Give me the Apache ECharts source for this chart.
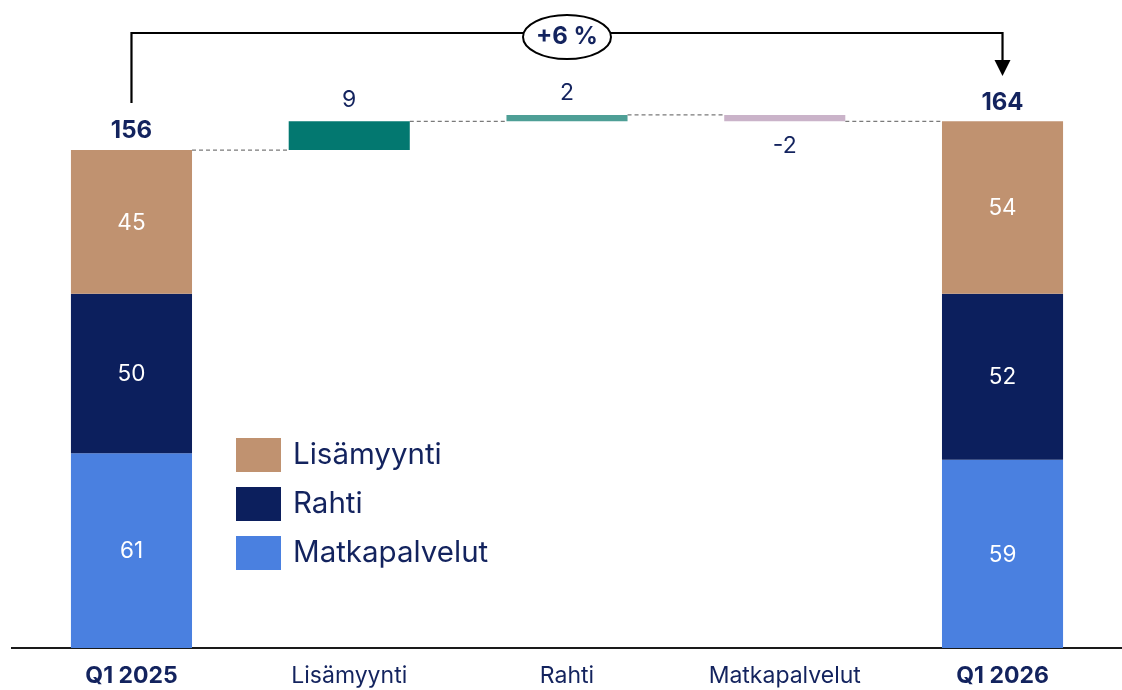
<!DOCTYPE html>
<html>
<head>
<meta charset="utf-8">
<script src="https://cdn.jsdelivr.net/npm/echarts@6/dist/echarts.min.js"></script>
<style>
  html, body { margin: 0; padding: 0; background: #fff; }
  #chart { width: 1122px; height: 690px; }
</style>
</head>
<body>
<div id="chart"></div>
<script>
// data
var categories = ['Q1 2025', 'Lisämyynti', 'Rahti', 'Matkapalvelut', 'Q1 2026'];
var matkapalvelut = [61, '-', '-', '-', 59];
var rahti = [50, '-', '-', '-', 52];
var lisamyynti = [45, '-', '-', '-', 54];
var startTotal = 156;
var deltas = ['-', 9, 2, -2, '-'];
var totalLabels = ['156', '', '', '', '164'];
var changeLabel = '+6 %';

var navy = '#13235e';
var font = 'Inter';
var deltaColors = ['', '#037870', '#4e9f96', '#cab3c9', ''];

// running levels for the waterfall
var baseData = [], deltaData = [], levels = [];
var run = startTotal;
levels.push(run);
for (var i = 0; i < categories.length; i++) {
  if (deltas[i] === '-') { baseData.push('-'); deltaData.push('-'); continue; }
  var d = deltas[i];
  var lo = d >= 0 ? run : run + d;
  baseData.push(lo);
  deltaData.push({
    value: Math.abs(d),
    itemStyle: { color: deltaColors[i] },
    label: { position: d >= 0 ? 'top' : 'bottom', distance: d >= 0 ? 10 : 13, formatter: String(d) }
  });
  run += d;
  levels.push(run);
}
// connector data: [fromIndex, level]
var connectors = [];
for (var k = 0; k < categories.length - 1; k++) connectors.push([k, levels[k]]);

// stack tops for total labels
var totals = [];
for (var j = 0; j < categories.length; j++) {
  if (totalLabels[j]) totals.push([j, matkapalvelut[j] + rahti[j] + lisamyynti[j], totalLabels[j]]);
}

var BAR_RATIO = 0.556;
var chart = echarts.init(document.getElementById('chart'));

var insideLabel = { show: true, position: 'inside', color: '#fff', fontSize: 22.5, fontFamily: font, offset: [0, 1] };

var option = {
  animation: false,
  grid: { left: 22.6, right: 10.6, top: 9.6, bottom: 42 },
  legend: {
    data: ['Lisämyynti', 'Rahti', 'Matkapalvelut'],
    orient: 'vertical',
    left: 231, top: 433,
    itemWidth: 45, itemHeight: 34, itemGap: 15,
    icon: 'rect',
    textStyle: { color: navy, fontSize: 29.5, fontFamily: font, padding: [2, 0, 0, 7] }
  },
  xAxis: {
    type: 'category',
    data: categories,
    axisLine: { show: false },
    axisTick: { show: false },
    axisLabel: {
      margin: 17,
      color: navy,
      fontSize: 23,
      fontFamily: font,
      formatter: function (v) { return v.indexOf('Q1') === 0 ? '{b|' + v + '}' : v; },
      rich: { b: { fontWeight: 'bold', fontSize: 23, fontFamily: font, color: navy } }
    }
  },
  yAxis: { type: 'value', min: 0, max: 200, show: false, splitLine: { show: false } },
  series: [
    { name: 'Matkapalvelut', type: 'bar', stack: 'all', barWidth: (BAR_RATIO * 100) + '%',
      itemStyle: { color: '#4a80e0' }, label: insideLabel, data: matkapalvelut },
    { name: 'Rahti', type: 'bar', stack: 'all',
      itemStyle: { color: '#0c1f5d' }, label: insideLabel, data: rahti },
    { name: 'Lisämyynti', type: 'bar', stack: 'all',
      itemStyle: { color: '#c09270' }, label: insideLabel, data: lisamyynti },
    { name: 'base', type: 'bar', stack: 'all',
      itemStyle: { color: 'transparent' }, silent: true, data: baseData },
    { name: 'delta', type: 'bar', stack: 'all',
      label: { show: true, color: navy, fontSize: 23, fontFamily: font },
      data: deltaData },
    { name: 'connectors', type: 'custom', silent: true, z: 1,
      renderItem: function (params, api) {
        var from = api.coord([api.value(0), api.value(1)]);
        var to = api.coord([api.value(0) + 1, api.value(1)]);
        var half = api.size([1, 0])[0] * BAR_RATIO / 2;
        return {
          type: 'line',
          shape: { x1: from[0] + half, y1: from[1], x2: to[0] - half, y2: to[1] },
          style: { stroke: '#7a7a7a', lineWidth: 1.2, lineDash: [4, 3] }
        };
      },
      data: connectors },
    { name: 'totals', type: 'custom', silent: true,
      renderItem: function (params, api) {
        var p = api.coord([api.value(0), api.value(1)]);
        return {
          type: 'text',
          style: { x: p[0], y: p[1] - 19, text: totals[params.dataIndex][2], align: 'center', verticalAlign: 'middle',
            fill: navy, font: 'bold 24px ' + font }
        };
      },
      data: totals }
  ]
};
chart.setOption(option);

// baseline and the change bracket, placed from the axes
var y0 = chart.convertToPixel({ yAxisIndex: 0 }, 0);
var xa = chart.convertToPixel({ xAxisIndex: 0 }, categories[0]);
var xb = chart.convertToPixel({ xAxisIndex: 0 }, categories[categories.length - 1]);
var xm = (xa + xb) / 2;
var yTop = 33;
chart.setOption({
  graphic: [
    { type: 'line', shape: { x1: 11, y1: y0, x2: 1122, y2: y0 }, style: { stroke: '#1a1a1a', lineWidth: 2 } },
    { type: 'polyline', shape: { points: [[xa, 103], [xa, yTop], [xb, yTop], [xb, 62]] },
      style: { stroke: '#000', lineWidth: 2.2, fill: null } },
    { type: 'polygon', shape: { points: [[xb - 8, 60], [xb + 8, 60], [xb, 76]] }, style: { fill: '#000' } },
    { type: 'ellipse', shape: { cx: xm, cy: 37, rx: 44, ry: 22 }, style: { fill: '#fff', stroke: '#000', lineWidth: 2 } },
    { type: 'text', x: xm, y: 37, style: { text: changeLabel, align: 'center', verticalAlign: 'middle',
      fill: navy, font: 'bold 24px ' + font } }
  ]
});
</script>
</body>
</html>
